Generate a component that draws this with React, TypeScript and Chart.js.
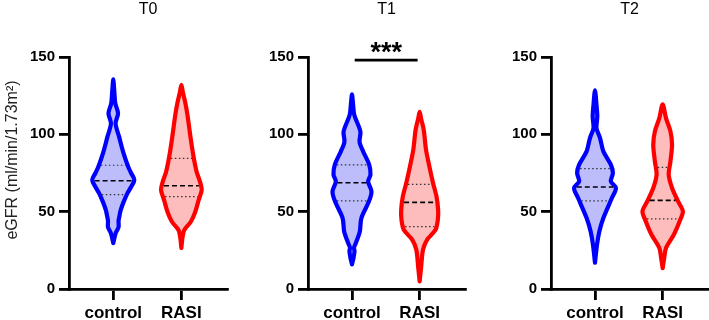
import React, { useEffect, useRef } from 'react';
import { Chart, registerables } from 'chart.js';

Chart.register(...registerables);

// ---------- data ----------
const groups = ['control', 'RASI'];
const panelTitles = ['T0', 'T1', 'T2'];
const yTicks = [0, 50, 100, 150];
const yAxisTitle = 'eGFR (ml/min/1.73m²)';
const significance = ['', '***', ''];
const significanceLevel = 148;

// violin outlines: value levels (ascending) and kernel density (relative half-width)
const t0ControlLevels = [29.7, 36, 40, 44, 47, 51, 56, 62, 66, 70.5, 75, 79, 88, 98.5, 107, 113.6, 120, 128, 135.5];
const t0ControlDensity = [0, 2.3, 5.2, 5.2, 6, 7.3, 10, 14, 17.5, 20.7, 17.5, 14.7, 10, 5.7, 2.3, 4.7, 2, 1, 0];
const t0RasiLevels = [26.5, 32.8, 38, 43.5, 50, 57.5, 64, 69.4, 75.8, 86.6, 99.5, 112.5, 121, 127, 132];
const t0RasiDensity = [0, 1, 2.7, 9.3, 13.7, 17, 20, 18.3, 15, 11.7, 8.7, 6, 3.7, 1.5, 0];

const t1ControlLevels = [16, 20, 24.4, 26.7, 29.5, 37, 45.8, 56.5, 63, 69.5, 73.9, 80.4, 89, 95, 101.9, 112.5, 120, 125.8];
const t1ControlDensity = [0, 1.5, 2.5, 2, 3.7, 7.7, 9.3, 16.7, 19.3, 16, 18.3, 17, 11, 7.5, 8.3, 2.3, 1, 0];
const t1RasiLevels = [5, 14.4, 25.4, 31.8, 38.3, 44.8, 51, 59.7, 68.4, 79, 90, 103, 110, 114.5];
const t1RasiDensity = [0, 1.5, 3.3, 7.3, 15.7, 18, 18.3, 16.7, 13.3, 9.7, 6.3, 4, 1.5, 0];

const t2ControlLevels = [17, 28.6, 37.2, 45.9, 58.8, 65.3, 69.6, 75, 80.4, 89, 97.6, 104, 111.5, 119, 128.5];
const t2ControlDensity = [0, 2, 4.3, 8.3, 16.7, 20.7, 15.7, 17.7, 15.7, 8.3, 5, 1.5, 2.3, 1.5, 0];
const t2RasiLevels = [13.5, 20, 26.5, 35.1, 43.7, 50.2, 56.6, 65.3, 73.9, 82.5, 93.3, 101.9, 110.5, 119.4];
const t2RasiDensity = [0, 1.5, 3.3, 11, 16.7, 20, 15.3, 9.3, 6, 7.7, 9.3, 7.7, 3.3, 0];

// quartiles: [Q1, median, Q3]
const t0ControlQuartiles = [61, 70, 80];
const t0RasiQuartiles = [59.7, 66.8, 84.5];
const t1ControlQuartiles = [57, 68.7, 80.3];
const t1RasiQuartiles = [40.3, 56, 67.7];
const t2ControlQuartiles = [57, 65.9, 77.8];
const t2RasiQuartiles = [45.4, 57.3, 78.6];

// ---------- styling ----------
const FONT = "'Liberation Sans', Arial, Helvetica, sans-serif";
const DENSITY_SCALE = 67; // density units per x unit
const COLORS = [
  { stroke: '#0000ff', fill: '#bdbdfc' },
  { stroke: '#ff0000', fill: '#fdbdbd' },
];

type Violin = { levels: number[]; density: number[]; quartiles: number[] };

const panels: { title: string; sig: string; violins: Violin[]; left: number; width: number; axisWidth: number; padRight: number }[] = [
  {
    title: panelTitles[0], sig: significance[0], left: 0, width: 236, axisWidth: 69, padRight: 9,
    violins: [
      { levels: t0ControlLevels, density: t0ControlDensity, quartiles: t0ControlQuartiles },
      { levels: t0RasiLevels, density: t0RasiDensity, quartiles: t0RasiQuartiles },
    ],
  },
  {
    title: panelTitles[1], sig: significance[1], left: 248, width: 227, axisWidth: 60, padRight: 10,
    violins: [
      { levels: t1ControlLevels, density: t1ControlDensity, quartiles: t1ControlQuartiles },
      { levels: t1RasiLevels, density: t1RasiDensity, quartiles: t1RasiQuartiles },
    ],
  },
  {
    title: panelTitles[2], sig: significance[2], left: 491, width: 218, axisWidth: 60, padRight: 1,
    violins: [
      { levels: t2ControlLevels, density: t2ControlDensity, quartiles: t2ControlQuartiles },
      { levels: t2RasiLevels, density: t2RasiDensity, quartiles: t2RasiQuartiles },
    ],
  },
];

function interpDensity(levels: number[], density: number[], v: number) {
  for (let i = 0; i < levels.length - 1; i++) {
    if (v >= levels[i] && v <= levels[i + 1]) {
      const t = (v - levels[i]) / (levels[i + 1] - levels[i]);
      return density[i] + t * (density[i + 1] - density[i]);
    }
  }
  return 0;
}

function violinOutline(center: number, vi: Violin) {
  const pts: { x: number; y: number }[] = [];
  const n = vi.levels.length;
  for (let i = 0; i < n; i++) pts.push({ x: center + vi.density[i] / DENSITY_SCALE, y: vi.levels[i] });
  for (let i = n - 2; i >= 0; i--) pts.push({ x: center - vi.density[i] / DENSITY_SCALE, y: vi.levels[i] });
  return pts;
}

function buildDatasets(panel: (typeof panels)[number]) {
  const ds: any[] = [];
  panel.violins.forEach((vi, gi) => {
    vi.quartiles.forEach((q, qi) => {
      const hw = Math.max(0, interpDensity(vi.levels, vi.density, q) - 2) / DENSITY_SCALE;
      const isMedian = qi === 1;
      ds.push({
        data: [{ x: gi - hw, y: q }, { x: gi + hw, y: q }],
        borderColor: isMedian ? '#000000' : '#333333',
        borderWidth: isMedian ? 1.6 : 1.2,
        borderDash: isMedian ? [5, 3] : [1.5, 2.5],
        pointRadius: 0,
        fill: false,
        tension: 0,
        order: 0,
      });
    });
    ds.push({
      data: violinOutline(gi, vi),
      borderColor: COLORS[gi].stroke,
      backgroundColor: COLORS[gi].fill,
      borderWidth: 4.2,
      borderJoinStyle: 'round',
      borderCapStyle: 'round',
      pointRadius: 0,
      fill: 'shape',
      tension: 0.3,
      order: 1,
    });
  });
  if (panel.sig) {
    ds.push({
      data: [{ x: 0.04, y: significanceLevel }, { x: 0.97, y: significanceLevel }],
      borderColor: '#000000',
      borderWidth: 2.6,
      pointRadius: 0,
      fill: false,
      order: 0,
    });
  }
  return ds;
}

function PanelChart({ panel, index }: { panel: (typeof panels)[number]; index: number }) {
  const ref = useRef<HTMLCanvasElement | null>(null);
  useEffect(() => {
    if (!ref.current) return;
    const textPlugin = {
      id: 'panelText',
      afterDraw(chart: any) {
        const ctx = chart.ctx;
        const { left, right } = chart.chartArea;
        ctx.save();
        ctx.fillStyle = '#000';
        ctx.font = `16px ${FONT}`;
        ctx.textAlign = 'center';
        ctx.textBaseline = 'middle';
        ctx.fillText(panel.title, (left + right) / 2, 10);
        if (panel.sig) {
          const xs = chart.scales.x;
          const ys = chart.scales.y;
          const cx = (xs.getPixelForValue(0.04) + xs.getPixelForValue(0.97)) / 2;
          const by = ys.getPixelForValue(significanceLevel);
          ctx.font = `bold 27px ${FONT}`;
          ctx.textBaseline = 'alphabetic';
          ctx.fillText(panel.sig, cx, by + 1);
        }
        if (index === 0) {
          ctx.translate(13, 160);
          ctx.rotate(-Math.PI / 2);
          ctx.font = `16px ${FONT}`;
          ctx.fillStyle = '#222';
          ctx.textBaseline = 'middle';
          ctx.fillText(yAxisTitle, 0, 0);
        }
        ctx.restore();
      },
    };
    const chart = new Chart(ref.current, {
      type: 'line',
      data: { datasets: buildDatasets(panel) },
      options: {
        animation: false,
        responsive: false,
        devicePixelRatio: 1,
        layout: { padding: { top: 57, right: panel.padRight, left: 0, bottom: 0 } },
        plugins: { legend: { display: false }, tooltip: { enabled: false }, title: { display: false } },
        elements: { point: { radius: 0 } },
        scales: {
          x: {
            type: 'linear',
            min: -0.65,
            max: 1.67,
            afterBuildTicks: (s: any) => {
              s.ticks = groups.map((_, i) => ({ value: i }));
            },
            afterFit: (s: any) => {
              s.height = 31;
            },
            ticks: {
              callback: (v: any) => groups[v as number],
              font: { family: FONT, size: 17, weight: 'bold' },
              color: '#000',
              padding: 3,
              autoSkip: false,
              maxRotation: 0,
            },
            grid: { drawOnChartArea: false, drawTicks: true, tickLength: 11, color: '#000', tickColor: '#000', lineWidth: 2.8 },
            border: { display: true, color: '#000', width: 2.8 },
          },
          y: {
            type: 'linear',
            min: 0,
            max: 150,
            afterBuildTicks: (s: any) => {
              s.ticks = yTicks.map((v) => ({ value: v }));
            },
            afterFit: (s: any) => {
              s.width = panel.axisWidth;
            },
            ticks: {
              font: { family: FONT, size: 15, weight: 'bold' },
              color: '#000',
              padding: 4,
            },
            grid: { drawOnChartArea: false, drawTicks: true, tickLength: 10, color: '#000', tickColor: '#000', lineWidth: 2.8 },
            border: { display: true, color: '#000', width: 2.8 },
          },
        },
      },
      plugins: [textPlugin],
    } as any);
    return () => chart.destroy();
  }, [panel, index]);
  return (
    <canvas
      ref={ref}
      width={panel.width}
      height={320}
      style={{ position: 'absolute', left: panel.left, top: 0, width: panel.width, height: 320 }}
    />
  );
}

export default function App() {
  return (
    <div style={{ position: 'fixed', left: 0, top: 0, width: 709, height: 320, background: '#fff', overflow: 'hidden' }}>
      {panels.map((p, i) => (
        <PanelChart key={i} panel={p} index={i} />
      ))}
    </div>
  );
}
